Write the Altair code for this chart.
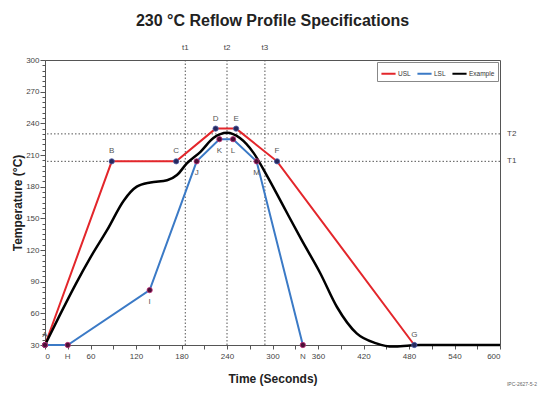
import altair as alt
import pandas as pd

# ---- data ----
usl_t = [0, 88, 173, 225, 252, 306, 487]
usl_T = [30, 204, 204, 235, 235, 204, 30]
usl_lab = ["A", "B", "C", "D", "E", "F", "G"]

lsl_t = [0, 30, 138, 200, 230, 248, 279, 340]
lsl_T = [30, 30, 82, 204, 225, 225, 204, 30]
lsl_lab = ["", "H", "I", "J", "K", "L", "M", "N"]

ex_t = [0, 20, 40, 60, 82, 104, 121, 139, 161, 174, 187, 205, 222, 240,
        257, 275, 293, 314, 338, 363, 385, 411, 437, 459, 481, 495, 600]
ex_T = [30, 59, 87, 113, 139, 167, 180, 184, 186, 191, 202, 213, 226, 231,
        226, 212, 190, 162, 130, 98, 66, 41, 31.6, 28.5, 29.5, 30, 30]

t_marks = [185, 240, 290]
t_names = ["t1", "t2", "t3"]
T_marks = [230, 204]
T_names = ["T2", "T1"]

series_names = ["USL", "LSL", "Example"]
series_colors = ["#e3262b", "#3b7ac6", "#000000"]

W, H = 455, 285

usl = pd.DataFrame({"t": usl_t, "T": usl_T, "label": usl_lab, "series": "USL",
                    "order": list(range(len(usl_t)))})
lsl = pd.DataFrame({"t": lsl_t, "T": lsl_T, "label": lsl_lab, "series": "LSL",
                    "order": list(range(len(lsl_t)))})
spec_df = pd.concat([usl, lsl], ignore_index=True)
ex_df = pd.DataFrame({"t": ex_t, "T": ex_T, "series": "Example",
                      "order": list(range(len(ex_t)))})
tdf = pd.DataFrame({"t": t_marks, "name": t_names})
Tdf = pd.DataFrame({"T": T_marks, "name": T_names})

axis_common = dict(domainColor="#555", tickColor="#555", labelColor="#444",
                   labelFont="Liberation Sans", labelFontSize=8,
                   titleFont="Liberation Sans", titleFontSize=12,
                   titleFontWeight="bold", titleColor="#222", grid=False,
                   labelOverlap=False)

x_enc = alt.X("t:Q", title="Time (Seconds)",
              scale=alt.Scale(domain=[0, 600], nice=False, zero=False),
              axis=alt.Axis(values=list(range(0, 601, 30)),
                            labelExpr="datum.value % 60 === 0 ? datum.label : ''",
                            tickSize=4, labelPadding=3, titlePadding=13,
                            **axis_common))
y_enc = alt.Y("T:Q", title="Temperature (°C)",
              scale=alt.Scale(domain=[30, 300], nice=False, zero=False),
              axis=alt.Axis(values=list(range(30, 301, 5)),
                            labelExpr="datum.value % 30 === 0 ? datum.label : ''",
                            tickSize=alt.condition("datum.value % 30 === 0",
                                                   alt.value(5), alt.value(3)),
                            labelPadding=1, titlePadding=1,
                            **axis_common))

color_enc = alt.Color("series:N",
                      scale=alt.Scale(domain=series_names, range=series_colors),
                      legend=alt.Legend(title=None, orient="top-right",
                                        direction="horizontal", offset=2,
                                        padding=3, strokeColor="#888",
                                        fillColor="white",
                                        symbolType="stroke", symbolSize=200,
                                        symbolStrokeWidth=2, labelFontSize=6.5,
                                        labelFont="Liberation Sans",
                                        labelColor="#333", columnPadding=2,
                                        labelOffset=1))

dash = [1.5, 2]
vrules = alt.Chart(tdf).mark_rule(strokeDash=dash, color="#555", strokeWidth=1).encode(x=x_enc)
hrules = alt.Chart(Tdf).mark_rule(strokeDash=dash, color="#555", strokeWidth=1).encode(y=y_enc)
tlabels = alt.Chart(tdf).mark_text(fontSize=8, color="#444", font="Liberation Sans",
                                   baseline="middle").encode(
    x=x_enc, y=alt.value(-12), text="name:N")
Tlabels = alt.Chart(Tdf).mark_text(fontSize=8, color="#444", font="Liberation Sans",
                                   align="left", baseline="middle").encode(
    x=alt.value(W + 7), y=y_enc, text="name:N")

spec_lines = alt.Chart(spec_df).mark_line(strokeWidth=2).encode(
    x=x_enc, y=y_enc, color=color_enc, order="order:Q")
ex_line = alt.Chart(ex_df).mark_line(strokeWidth=2.5, interpolate="monotone").encode(
    x=x_enc, y=y_enc, color=color_enc, order="order:Q")

usl_pts = alt.Chart(usl).mark_point(filled=True, size=28, fill="#26285c",
                                    stroke="#5060a8", strokeWidth=0.8,
                                    opacity=1).encode(x=x_enc, y=y_enc)
lsl_pts = alt.Chart(lsl).mark_point(filled=True, size=28, fill="#4a1036",
                                    stroke="#c0307a", strokeWidth=0.8,
                                    opacity=1).encode(x=x_enc, y=y_enc)

usl_txt = alt.Chart(usl).mark_text(fontSize=8, color="#555", dy=-10,
                                   font="Liberation Sans").encode(
    x=x_enc, y=y_enc, text="label:N")
lsl_txt = alt.Chart(lsl).mark_text(fontSize=8, color="#555", dy=12,
                                   font="Liberation Sans").encode(
    x=x_enc, y=y_enc, text="label:N")

footer = alt.Chart(pd.DataFrame({"k": [0]})).mark_text(
    fontSize=5, color="#666", align="right", baseline="bottom",
    font="Liberation Sans").encode(
    x=alt.value(W + 37), y=alt.value(H + 42), text=alt.value("IPC-2627-5-2"))

chart = alt.layer(
    vrules, hrules, tlabels, Tlabels, spec_lines, ex_line,
    usl_pts, lsl_pts, usl_txt, lsl_txt, footer
).properties(
    width=W, height=H,
    title=alt.TitleParams("230 °C Reflow Profile Specifications",
                          font="Liberation Sans", fontSize=16,
                          fontWeight="bold", color="#222", offset=15,
                          anchor="middle"),
    autosize=alt.AutoSizeParams(type="none"),
    padding={"left": 37, "top": 52, "right": 38, "bottom": 43},
).configure_view(stroke="#555", strokeWidth=1)

chart.save("out.html", embed_options={"renderer": "svg", "actions": False})
